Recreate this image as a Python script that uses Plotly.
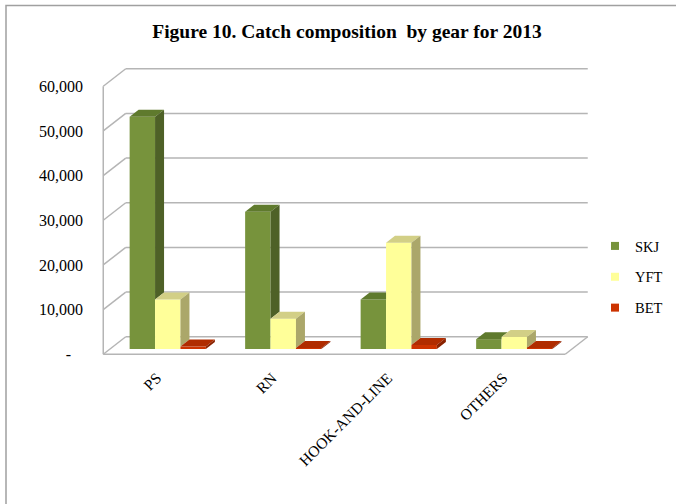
import plotly.graph_objects as go

# ---- data ----
gears = ["PS", "RN", "HOOK-AND-LINE", "OTHERS"]
series_names = ["SKJ", "YFT", "BET"]
skj = [52000, 30700, 11100, 2200]
yft = [11100, 6800, 23800, 2700]
bet = [550, 200, 900, 250]
y_ticks = [0, 10000, 20000, 30000, 40000, 50000, 60000]
y_tick_text = ["-\u00a0\u00a0\u00a0", "10,000", "20,000", "30,000", "40,000", "50,000", "60,000"]

values = [skj, yft, bet]
front_colors = ["#77933C", "#FFFF99", "#CC3300"]
top_colors = ["#5F7A2D", "#D2CF86", "#B02C00"]
side_colors = ["#4E6127", "#ABA76A", "#8A2200"]

# ---- geometry (pixel layout of the pseudo-3D frame) ----
W, H = 676, 504
L_PX, R_PX, T_PX, B_PX = 100, 590, 65, 357
PX_PER_X = 115.5
PX_PER_Y = 268 / 60000
X0_PX = 110          # px of x=-0.5 in bar plane
Y0_PX = 349          # px of y=0 in bar plane
xr = [-0.5 - (X0_PX - L_PX) / PX_PER_X, -0.5 + (R_PX - X0_PX) / PX_PER_X]
yr = [-(B_PX - Y0_PX) / PX_PER_Y, (Y0_PX - T_PX) / PX_PER_Y]

DX = 22.5 / PX_PER_X     # full depth of floor
DY = 17.5 / PX_PER_Y
FRONT = 0.3
dxb = 0.4 * DX           # bar depth
dyb = 0.4 * DY
bw = 0.22

fig = go.Figure()

# front faces of bars
for s, (name, vals) in enumerate(zip(series_names, values)):
    fig.add_trace(go.Bar(
        x=list(range(len(gears))), y=vals, width=bw, offset=(s - 1) * bw - bw / 2,
        marker=dict(color=front_colors[s], line=dict(width=0)),
        name=name, showlegend=False, legendgroup=name, hoverinfo="skip"))

# top and side faces
for i in range(len(gears)):
    for s in range(3):
        h = values[s][i]
        xl = i + (s - 1) * bw - bw / 2
        xrr = xl + bw
        hn = values[s + 1][i] if s < 2 else None
        # top face
        t = 0.0
        if hn is not None and hn > h:
            t = min(1.0, (hn - h) / dyb)
        px = [xl, xrr, xrr, xrr + dxb * (1 - t), xl + dxb, xl]
        py = [h, h, h + t * dyb, h + dyb, h + dyb, h]
        fig.add_trace(go.Scatter(x=px, y=py, mode="lines", fill="toself",
                                 fillcolor=top_colors[s], line=dict(width=0),
                                 showlegend=False, hoverinfo="skip"))
        # side face
        base = 0 if hn is None else hn
        if hn is None or hn < h:
            px = [xrr, xrr, xrr + dxb, xrr + dxb, xrr]
            py = [base, h, h + dyb, base + dyb, base]
            fig.add_trace(go.Scatter(x=px, y=py, mode="lines", fill="toself",
                                     fillcolor=side_colors[s], line=dict(width=0),
                                     showlegend=False, hoverinfo="skip"))

# legend entries
for s, name in enumerate(series_names):
    fig.add_trace(go.Scatter(x=[None], y=[None], mode="markers", name=name,
                             legendgroup=name,
                             marker=dict(symbol="square", size=8, color=front_colors[s])))

# walls / gridlines as shapes below traces
grid_col = "#B5B5B5"
shapes = []
xfl = -0.5 - FRONT * DX
xbl = -0.5 + (1 - FRONT) * DX
xfr = 3.5 - FRONT * DX
xbr = 3.5 + (1 - FRONT) * DX
for v in y_ticks:
    yf = v - FRONT * DY
    yb = v + (1 - FRONT) * DY
    shapes.append(dict(type="line", x0=xfl, y0=yf, x1=xbl, y1=yb, xref="x", yref="y",
                       line=dict(color=grid_col, width=1.5), layer="below"))
    shapes.append(dict(type="line", x0=xbl, y0=yb, x1=xbr, y1=yb, xref="x", yref="y",
                       line=dict(color=grid_col, width=1.5), layer="below"))
# front-left vertical edge
shapes.append(dict(type="line", x0=xfl, y0=-FRONT * DY, x1=xfl, y1=60000 - FRONT * DY,
                   xref="x", yref="y", line=dict(color=grid_col, width=1.5), layer="below"))
# floor front and right edges
shapes.append(dict(type="line", x0=xfl, y0=-FRONT * DY, x1=xfr, y1=-FRONT * DY,
                   xref="x", yref="y", line=dict(color=grid_col, width=1.5), layer="below"))
shapes.append(dict(type="line", x0=xfr, y0=-FRONT * DY, x1=xbr, y1=(1 - FRONT) * DY,
                   xref="x", yref="y", line=dict(color=grid_col, width=1.5), layer="below"))
# outer chart frame
pw, ph = R_PX - L_PX, B_PX - T_PX
shapes.append(dict(type="rect", xref="paper", yref="paper",
                   x0=(6 - L_PX) / pw, x1=(690 - L_PX) / pw,
                   y0=(B_PX - 520) / ph, y1=(B_PX - 5.5) / ph,
                   line=dict(color="#A0A0A0", width=1.5), fillcolor="rgba(0,0,0,0)", layer="below"))

font_fam = "Liberation Serif, Times New Roman, serif"
fig.update_layout(
    width=W, height=H,
    margin=dict(l=L_PX, r=W - R_PX, t=T_PX, b=H - B_PX, pad=0, autoexpand=False),
    paper_bgcolor="white", plot_bgcolor="white",
    barmode="overlay",
    shapes=shapes,
    title=dict(text="<b>Figure 10. Catch composition\u00a0 by gear for 2013</b>",
               x=347 / W, xanchor="center", y=1 - 31 / H, yanchor="middle",
               xref="container", yref="container",
               font=dict(family=font_fam, size=19.5, color="black")),
    font=dict(family=font_fam, color="black"),
    xaxis=dict(range=xr, tickvals=list(range(len(gears))), ticktext=gears,
               tickangle=-45, tickfont=dict(size=15.5, family=font_fam),
               showgrid=False, zeroline=False, showline=False, ticks="",
               ticklabelstandoff=8, ticklabelshift=-11),
    yaxis=dict(range=yr, showgrid=False, zeroline=False, showticklabels=False,
               showline=False, ticks=""),
    yaxis2=dict(range=[yr[0] + FRONT * DY, yr[1] + FRONT * DY], overlaying="y",
                anchor="x", side="left", tickvals=y_ticks, ticktext=y_tick_text,
                tickfont=dict(size=16, family=font_fam), showgrid=False,
                zeroline=False, showline=False, ticks="", ticklabelstandoff=16),
    legend=dict(x=(595 - L_PX) / pw, xanchor="left", y=(B_PX - 277) / ph, yanchor="middle",
                font=dict(size=14.5, family=font_fam), tracegroupgap=9,
                bgcolor="rgba(0,0,0,0)"),
    showlegend=True,
)
# a dummy trace on yaxis2 so the axis renders
fig.add_trace(go.Scatter(x=[None], y=[None], yaxis="y2", showlegend=False, hoverinfo="skip"))

fig.write_html("out.html")
